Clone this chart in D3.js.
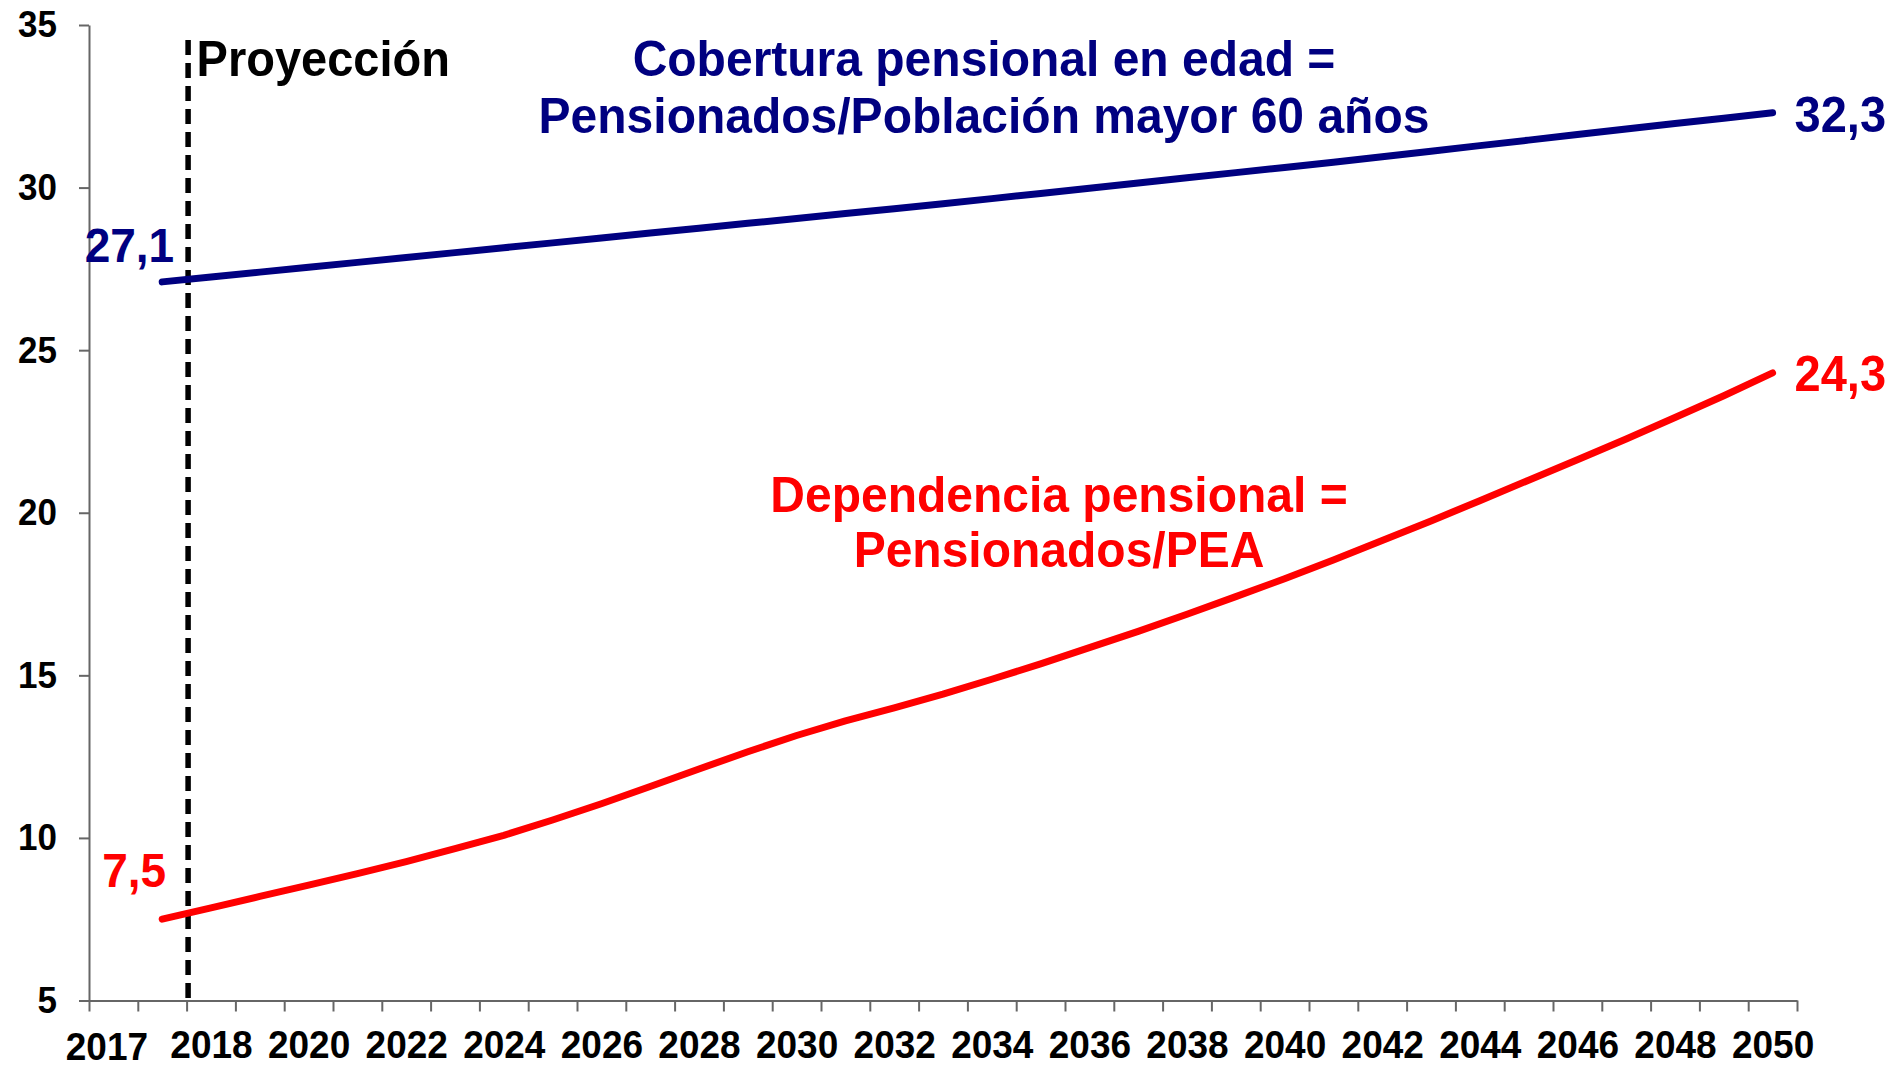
<!DOCTYPE html>
<html>
<head>
<meta charset="utf-8">
<script src="https://cdn.jsdelivr.net/npm/d3@7"></script>
<style>
  html, body { margin: 0; padding: 0; background: #fff; }
  svg { display: block; }
  text { font-family: "Liberation Sans", Arial, Helvetica, sans-serif; font-weight: bold; }
</style>
</head>
<body>
<svg id="chart" width="1897" height="1068"></svg>
<script>
// ---- data ----
const years = d3.range(2017, 2051);
const cobertura = [27.1, 27.25, 27.4, 27.55, 27.7, 27.85, 28.0, 28.15, 28.3, 28.45,
  28.6, 28.75, 28.9, 29.05, 29.2, 29.35, 29.5, 29.66, 29.82, 29.98,
  30.14, 30.3, 30.46, 30.62, 30.78, 30.95, 31.12, 31.29, 31.46, 31.63,
  31.8, 31.97, 32.13, 32.3];
const dependencia = [7.5, 7.85, 8.2, 8.55, 8.9, 9.27, 9.67, 10.08, 10.55, 11.05,
  11.58, 12.12, 12.65, 13.15, 13.6, 14.0, 14.42, 14.88, 15.35, 15.85,
  16.35, 16.88, 17.42, 17.97, 18.55, 19.15, 19.75, 20.37, 21.0, 21.63,
  22.27, 22.93, 23.6, 24.3];
const xTickLabels = ["2017", "2018", "2020", "2022", "2024", "2026", "2028", "2030", "2032",
  "2034", "2036", "2038", "2040", "2042", "2044", "2046", "2048", "2050"];
const yTicks = [5, 10, 15, 20, 25, 30, 35];
const projectionStart = 2018;
const titleCobertura = ["Cobertura pensional en edad =", "Pensionados/Población mayor 60 años"];
const titleDependencia = ["Dependencia pensional =", "Pensionados/PEA"];
const projectionLabel = "Proyección";

(function () {
// ---- layout ----
const svg = d3.select("#chart");
const mLeft = 89, mRight = 1797, mTop = 25, mBottom = 1000.5;
const nSlots = years.length + 1; // leading slot holds the "2017" axis label
const slotOf = yr => yr - years[0] + 1;
const x = d3.scaleLinear().domain([0, nSlots]).range([mLeft, mRight]);
const xc = slot => x(slot + 0.5);
const y = d3.scaleLinear().domain([5, 35]).range([mBottom, mTop]);

const navy = "#000080", red = "#ff0000", axisCol = "#666666";
const FONT = "'Liberation Sans', Arial, sans-serif";
const SY = 1.06; // slight vertical stretch of the original lettering

function addText(px, py, str, size, color, anchor) {
  return svg.append("text")
    .attr("transform", `translate(${px},${py}) scale(1,${SY})`)
    .attr("text-anchor", anchor || "start")
    .attr("font-size", size).attr("fill", color).text(str);
}

// Y axis
const yAxis = svg.append("g")
  .attr("transform", `translate(${mLeft},0)`)
  .call(d3.axisLeft(y).tickValues(yTicks).tickSize(10).tickPadding(22).tickSizeOuter(0));
yAxis.select(".domain").attr("stroke", axisCol).attr("stroke-width", 2);
yAxis.selectAll(".tick line").attr("stroke", axisCol).attr("stroke-width", 2);
yAxis.selectAll(".tick text").attr("font-size", 35).attr("fill", "#000")
  .attr("font-family", FONT).attr("font-weight", "bold")
  .attr("transform", `scale(1,${SY})`);

// X axis tick marks (between categories)
const xAxisMarks = svg.append("g")
  .attr("transform", `translate(0,${mBottom})`)
  .call(d3.axisBottom(x).tickValues(d3.range(0, nSlots + 1)).tickSize(11).tickFormat("").tickSizeOuter(0));
xAxisMarks.select(".domain").attr("stroke", axisCol).attr("stroke-width", 2);
xAxisMarks.selectAll(".tick line").attr("stroke", axisCol).attr("stroke-width", 2);

// X axis labels (centered in category slots)
const labelSlots = xTickLabels.map((l, i) => i === 0 ? 0 : slotOf(+l));
const labelScale = d3.scaleOrdinal().domain(labelSlots).range(xTickLabels);
const xAxisLabels = svg.append("g")
  .attr("transform", `translate(0,${mBottom})`)
  .call(d3.axisBottom(x).tickValues(labelSlots.map(s => s + 0.5)).tickSize(0).tickPadding(28)
    .tickFormat(v => labelScale(v - 0.5)));
xAxisLabels.select(".domain").remove();
xAxisLabels.selectAll(".tick text").attr("font-size", 37).attr("fill", "#000")
  .attr("font-family", FONT).attr("font-weight", "bold")
  .attr("transform", (d, i) => i === 0 ? `translate(-7,2) scale(1,${SY})` : `scale(1,${SY})`);

// Projection dashed line
svg.append("line")
  .attr("x1", x(slotOf(projectionStart)) + 1.5).attr("x2", x(slotOf(projectionStart)) + 1.5)
  .attr("y1", 40).attr("y2", mBottom)
  .attr("stroke", "#000").attr("stroke-width", 5.5).attr("stroke-dasharray", "15,8");

addText(x(slotOf(projectionStart)) + 10, 76, projectionLabel, 47, "#000");

// Lines
const line = d3.line().x((d, i) => xc(slotOf(years[i]))).y(d => y(d));
svg.append("path").datum(cobertura).attr("d", line)
  .attr("fill", "none").attr("stroke", navy).attr("stroke-width", 7)
  .attr("stroke-linecap", "round").attr("stroke-linejoin", "round");
svg.append("path").datum(dependencia).attr("d", line)
  .attr("fill", "none").attr("stroke", red).attr("stroke-width", 7)
  .attr("stroke-linecap", "round").attr("stroke-linejoin", "round");

const fmt = v => d3.format(".1f")(v).replace(".", ",");
const first = slotOf(years[0]), last = slotOf(years[years.length - 1]);
const nL = cobertura.length - 1;

// Value labels
addText(xc(first) + 12, y(cobertura[0]) - 20, fmt(cobertura[0]), 46, navy, "end");
addText(xc(first) + 4, y(dependencia[0]) - 32, fmt(dependencia[0]), 46, red, "end");
addText(xc(last) + 22, y(cobertura[nL]) + 19, fmt(cobertura[nL]), 47, navy);
addText(xc(last) + 22, y(dependencia[nL]) + 18, fmt(dependencia[nL]), 47, red);

// Series titles
titleCobertura.forEach((t, i) => addText(984, 76 + i * 57, t, 48, navy, "middle"));
titleDependencia.forEach((t, i) => addText(1059, 512 + i * 55, t, 48, red, "middle"));
})();
</script>
</body>
</html>
